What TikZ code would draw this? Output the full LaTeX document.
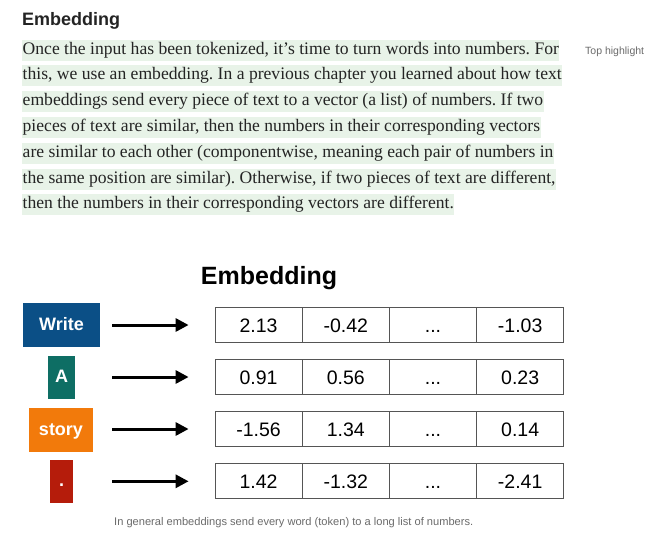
\documentclass[tikz,border=0pt]{standalone}
\usepackage{fontspec}
\setmainfont{Liberation Serif}
\setsansfont{Liberation Sans}
\usetikzlibrary{arrows.meta}
\frenchspacing
\definecolor{ink}{HTML}{242424}
\definecolor{hl}{HTML}{E8F3E8}
\definecolor{greytext}{HTML}{6B6B6B}
\definecolor{cellline}{HTML}{555555}
\definecolor{writeblue}{HTML}{0B4F86}
\definecolor{ateal}{HTML}{0E6E64}
\definecolor{storyorange}{HTML}{F27A0B}
\definecolor{dotred}{HTML}{B51C0B}
\begin{document}
\begin{tikzpicture}[x=1pt,y=-1pt,
  textline/.style={anchor=base west,fill=hl,inner xsep=0.5pt,inner ysep=2pt,
    text height=12.5pt,text depth=4.5pt,text=ink,font=\fontsize{17.6}{17.6}\selectfont},
  token/.style={inner sep=0pt,minimum height=44pt,text=white,text height=13pt,text depth=3pt,
    font=\sffamily\bfseries\fontsize{18}{18}\selectfont},
  cell/.style={draw=cellline,line width=1pt,minimum width=87pt,minimum height=35pt,
    inner sep=0pt,text height=14pt,text depth=0pt,font=\sffamily\fontsize{19.5}{19.5}\selectfont},
  arr/.style={line width=3pt,-{Triangle[length=13pt,width=13pt]}}]
\useasboundingbox[fill=white] (0,0) rectangle (669,554);

% article text
\node[anchor=base west,inner sep=0pt,text=ink,font=\sffamily\bfseries\fontsize{18}{18}\selectfont] (head) at (22,25) {Embedding};
\node[anchor=base west,inner sep=0pt,text=greytext,font=\sffamily\fontsize{10.5}{10.5}\selectfont] (tophl) at (585,54) {Top highlight};
\node[textline] (l1) at (22,54) {Once the input has been tokenized, it’s time to turn words into numbers. For};
\node[textline] (l2) at (22,79.8) {this, we use an embedding. In a previous chapter you learned about how text};
\node[textline] (l3) at (22,105.6) {embeddings send every piece of text to a vector (a list) of numbers. If two};
\node[textline] (l4) at (22,131.4) {pieces of text are similar, then the numbers in their corresponding vectors};
\node[textline] (l5) at (22,157.2) {are similar to each other (componentwise, meaning each pair of numbers in};
\node[textline] (l6) at (22,183) {the same position are similar). Otherwise, if two pieces of text are different,};
\node[textline] (l7) at (22,208.8) {then the numbers in their corresponding vectors are different.};

% figure
\node[anchor=base,inner sep=0pt,text=black,font=\sffamily\bfseries\fontsize{25}{25}\selectfont] (title) at (269,284) {Embedding};

\node[token,fill=writeblue,minimum width=77pt] (t1) at (61.5,325) {Write};
\node[token,fill=ateal,minimum width=27pt,minimum height=43pt] (t2) at (61.5,377.5) {A};
\node[token,fill=storyorange,minimum width=64pt] (t3) at (61,430) {story};
\node[token,fill=dotred,minimum width=23pt,minimum height=43pt] (t4) at (61.5,481.5) {.};

\foreach \r/\y/\p/\q/\s in {1/325/2.13/-0.42/-1.03,2/377/0.91/0.56/0.23,3/429/-1.56/1.34/0.14,4/481.3/1.42/-1.32/-2.41}{
  \node[cell] (c\r1) at (258.6,\y) {\p};
  \node[cell] (c\r2) at (345.8,\y) {\q};
  \node[cell] (c\r3) at (433,\y) {...};
  \node[cell] (c\r4) at (520.2,\y) {\s};
  \coordinate (s\r) at (112,\y);
  \draw[arr] (s\r) -- ([xshift=-26pt]c\r1.west);
}

\node[anchor=base west,inner sep=0pt,text=greytext,font=\sffamily\fontsize{11.1}{11.1}\selectfont] (cap) at (114,525) {In general embeddings send every word (token) to a long list of numbers.};
\end{tikzpicture}
\end{document}
